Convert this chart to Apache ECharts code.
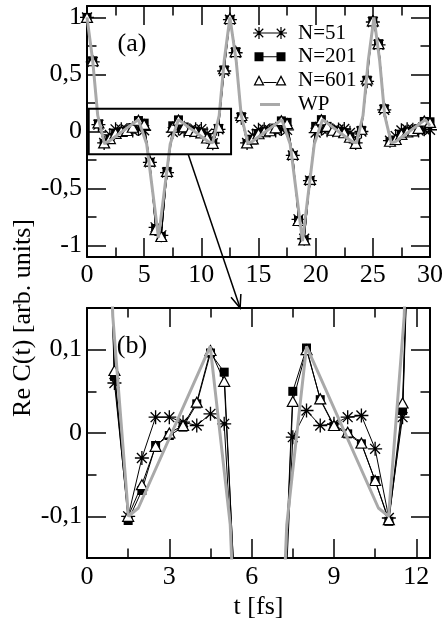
<!DOCTYPE html>
<html><head><meta charset="utf-8">
<script src="https://cdn.jsdelivr.net/npm/echarts@6/dist/echarts.min.js"></script>
<style>html,body{margin:0;padding:0;background:#fff}#c{width:448px;height:625px}</style>
</head><body><div id="c"></div>
<script>
// ---------- data ----------
const times = [0,0.5,1,1.5,2,2.5,3,3.5,4,4.5,5,5.5,6,6.5,7,7.5,8,8.5,9,9.5,10,10.5,11,11.5,12,12.5,
  13,13.5,14,14.5,15,15.5,16,16.5,17,17.5,18,18.5,19,19.5,20,20.5,21,21.5,22,22.5,23,23.5,24,24.5,25,
  25.5,26,26.5,27,27.5,28,28.5,29,29.5,30];
const n51 = [1,0.61,0.06,-0.10,-0.03,0.019,0.019,0.013,0.009,0.023,0.011,-0.27,-0.84,-0.91,-0.36,-0.005,0.027,0.009,0.011,0.019,0.021,-0.019,-0.102,0.019,0.53,0.98,
  0.69,0.12,-0.10,-0.035,0.015,0.02,0.012,0.008,0.022,0.014,-0.21,-0.77,-0.94,-0.43,-0.01,0.025,0.012,0.01,0.018,0.022,-0.012,-0.10,0.0,0.44,0.96,
  0.76,0.19,-0.08,-0.04,0.01,0.02,0.015,0.008,0.02,0.015];
const n201 = [1,0.62,0.068,-0.105,-0.069,-0.015,-0.003,0.007,0.035,0.096,0.073,-0.27,-0.85,-0.92,-0.35,0.050,0.102,0.040,0.008,-0.001,-0.013,-0.057,-0.106,0.027,0.54,0.98,
  0.70,0.13,-0.105,-0.075,-0.02,-0.004,0.005,0.03,0.093,0.08,-0.21,-0.78,-0.95,-0.43,0.045,0.104,0.045,0.01,0.0,-0.012,-0.05,-0.106,0.01,0.45,0.97,
  0.77,0.20,-0.09,-0.08,-0.025,-0.006,0.004,0.025,0.088,0.085];
const n601 = [1,0.62,0.075,-0.10,-0.062,-0.016,0.0,0.009,0.037,0.099,0.062,-0.26,-0.86,-0.92,-0.35,0.038,0.100,0.041,0.009,0.001,-0.012,-0.057,-0.104,0.036,0.55,0.99,
  0.70,0.14,-0.10,-0.065,-0.02,-0.002,0.007,0.032,0.095,0.07,-0.20,-0.78,-0.95,-0.42,0.035,0.102,0.045,0.011,0.002,-0.011,-0.05,-0.104,0.02,0.46,0.97,
  0.77,0.21,-0.085,-0.07,-0.025,-0.004,0.006,0.028,0.092,0.08];
const wpTimes = [0,0.5,0.94,1.51,1.87,4.49,5.22,6.25,7.28,8.0,10.62,10.99,11.56,12.0,12.5,13.05,13.49,14.06,14.42,17.04,
  17.77,18.85,19.88,20.6,23.2,23.57,24.14,24.6,25.1,25.6,26.04,26.61,26.97,29.59,30];
const wpValues = [1,0.62,0.14,-0.1,-0.09,0.104,-0.11,-0.93,-0.11,0.104,-0.09,-0.1,0.14,0.62,1,0.62,0.14,-0.1,-0.09,0.104,
  -0.11,-0.96,-0.11,0.104,-0.09,-0.1,0.14,0.62,1,0.62,0.14,-0.1,-0.09,0.104,0.05];
const seriesNames = ['N=51','N=201','N=601','WP'];

// ticks
const xTicksA = [0,5,10,15,20,25,30];
const xMinorA = [2.5,7.5,12.5,17.5,22.5,27.5];
const yTicksA = [-1,-0.5,0,0.5,1];
const yMinorA = [-0.75,-0.25,0.25,0.75];
const xTicksB = [0,3,6,9,12];
const xMinorB = [1.5,4.5,7.5,10.5];
const yTicksB = [-0.1,0,0.1];
const yMinorB = [-0.05,0.05];

// ---------- styling ----------
const FONT = 'Liberation Serif';
const GRAY = '#a9a9a9';
const fmt = v => String(Math.round(v*1000)/1000).replace('.', ',');

function bar(x1,y1,x2,y2,w){
  const dx=x2-x1, dy=y2-y1, L=Math.hypot(dx,dy);
  const nx=-dy/L*w, ny=dx/L*w;
  return `M${x1+nx},${y1+ny}L${x2+nx},${y2+ny}L${x2-nx},${y2-ny}L${x1-nx},${y1-ny}Z`;
}
function star(cx,cy,r,w){
  const d=r*0.7071;
  return bar(cx-r,cy,cx+r,cy,w)+bar(cx,cy-r,cx,cy+r,w)+bar(cx-d,cy-d,cx+d,cy+d,w)+bar(cx-d,cy+d,cx+d,cy-d,w);
}
const IW = 40, IH = 14;
function corners(){ return `M0,0L0.01,0L0,0.01ZM${IW},${IH}L${IW-0.01},${IH}L${IW},${IH-0.01}Z`; }
function triHollow(cx){
  return `M${cx},1.5L${cx-5.5},12L${cx+5.5},12Z` + `M${cx},4.2L${cx+3.4},10.7L${cx-3.4},10.7Z`;
}
const starSymbol = 'path://' + star(10,10,10,0.95);
const iconStar = 'path://' + corners() + star(6,7,6,0.6) + star(28,7,6,0.6) + bar(6,7,28,7,0.5);
const iconSquare = 'path://' + corners() + bar(1.5,7,10.5,7,4.5) + bar(23.5,7,32.5,7,4.5) + bar(10,7,24,7,0.5);
const iconTri = 'path://' + corners() + triHollow(6) + triHollow(28) + bar(10.5,8.8,23.5,8.8,0.5);
const iconWP = 'path://' + corners() + bar(7,7,27,7,1.5);

function axis(gi, position, min, max, ticks, len, showLine, labelOpt, extra){
  return Object.assign({
    type:'value', gridIndex:gi, position, min, max,
    axisLine:{show:showLine, onZero:false, lineStyle:{color:'#000', width:2}},
    axisTick:{show:true, inside:true, length:len, customValues:ticks, lineStyle:{color:'#000', width:1.5}},
    axisLabel: labelOpt ? Object.assign({show:true, customValues:ticks, color:'#000', fontFamily:FONT, fontSize:26, formatter:fmt}, labelOpt) : {show:false},
    splitLine:{show:false}, minorTick:{show:false}, splitArea:{show:false}, axisPointer:{show:false}
  }, extra || {});
}

const xAxes = [
  axis(0,'bottom',0,30,xTicksA,19,true,{margin:5}),
  axis(0,'bottom',0,30,xMinorA,9.5,false,null),
  axis(0,'top',0,30,xTicksA,19,true,null),
  axis(0,'top',0,30,xMinorA,9.5,false,null),
  axis(1,'bottom',0,12.5,xTicksB,19,true,{margin:6},
    {name:'t [fs]', nameLocation:'middle', nameGap:36, nameTextStyle:{fontFamily:FONT, fontSize:26, color:'#000'}}),
  axis(1,'bottom',0,12.5,xMinorB,9.5,false,null),
  axis(1,'top',0,12.5,xTicksB,19,true,null),
  axis(1,'top',0,12.5,xMinorB,9.5,false,null)
];
const yAxes = [
  axis(0,'left',-1.1,1.1,yTicksA,19,true,{margin:5}),
  axis(0,'left',-1.1,1.1,yMinorA,9.5,false,null),
  axis(0,'right',-1.1,1.1,yTicksA,19,true,null),
  axis(0,'right',-1.1,1.1,yMinorA,9.5,false,null),
  axis(1,'left',-0.15,0.15,yTicksB,19,true,{margin:5}),
  axis(1,'left',-0.15,0.15,yMinorB,9.5,false,null),
  axis(1,'right',-0.15,0.15,yTicksB,19,true,null),
  axis(1,'right',-0.15,0.15,yMinorB,9.5,false,null)
];

function pairs(xs, ys){ return xs.map((x,i)=>[x, ys[i]]); }
function markerSeries(name, ax, vals, symbol, size, itemStyle){
  return {type:'line', name, xAxisIndex:ax, yAxisIndex:ax, data:pairs(times, vals),
    symbol, symbolSize:size, showSymbol:true, showAllSymbol:true, itemStyle,
    lineStyle:{color:'#000', width:1}, emphasis:{disabled:true}, clip:true, z:2, animation:false};
}
function wpSeries(ax){
  return {type:'line', name:'WP', xAxisIndex:ax, yAxisIndex:ax, data:pairs(wpTimes, wpValues),
    symbol:'none', itemStyle:{color:GRAY}, lineStyle:{color:GRAY, width:3}, emphasis:{disabled:true}, clip:true, z:3, animation:false};
}
const series = [];
[0,4].forEach(ax=>{
  series.push(markerSeries(seriesNames[0], ax, n51, starSymbol, 14, {color:'#000'}));
  series.push(markerSeries(seriesNames[1], ax, n201, 'rect', 9, {color:'#000'}));
  series.push(markerSeries(seriesNames[2], ax, n601, 'triangle', [11,10], {color:'#fff', borderColor:'#000', borderWidth:1.2}));
  series.push(wpSeries(ax));
});

const chart = echarts.init(document.getElementById('c'), null, {renderer:'canvas'});
chart.setOption({
  animation:false,
  backgroundColor:'#fff',
  grid:[
    {left:87, top:6, width:343, height:251, containLabel:false, outerBoundsMode:'none'},
    {left:87, top:308, width:343, height:250, containLabel:false, outerBoundsMode:'none'}
  ],
  xAxis:xAxes, yAxis:yAxes,
  legend:{left:253, top:22.5, padding:0, orient:'vertical', align:'left', itemWidth:IW, itemHeight:IH, itemGap:2.8, selectedMode:false,
    textStyle:{fontFamily:FONT, fontSize:21, color:'#000', lineHeight:21},
    data:[
      {name:seriesNames[0], icon:iconStar, itemStyle:{color:'#000', borderWidth:0}},
      {name:seriesNames[1], icon:iconSquare, itemStyle:{color:'#000', borderWidth:0}},
      {name:seriesNames[2], icon:iconTri, itemStyle:{color:'#000', borderWidth:0}},
      {name:seriesNames[3], icon:iconWP, itemStyle:{color:GRAY, borderWidth:0}}
    ]},
  series
});

// ---------- annotations ----------
const pA = pt => chart.convertToPixel({xAxisIndex:0, yAxisIndex:0}, pt);
const pB = pt => chart.convertToPixel({xAxisIndex:4, yAxisIndex:4}, pt);
const r0 = pA([0.15, 0.2]), r1 = pA([12.6, -0.2]);
const a0 = pA([8.85, -0.2]), a1 = pB([5.58, 0.15]);
const ang = Math.atan2(a1[1]-a0[1], a1[0]-a0[0]);
const hl = 14, ha = 0.38;
const w1 = [a1[0]-hl*Math.cos(ang-ha), a1[1]-hl*Math.sin(ang-ha)];
const w2 = [a1[0]-hl*Math.cos(ang+ha), a1[1]-hl*Math.sin(ang+ha)];
const txt = (t, x, y, rot) => ({type:'text', x, y, rotation:rot||0, z:100,
  style:{text:t, fontFamily:FONT, fontSize:26, fill:'#000', align:'center', verticalAlign:'middle'}});
chart.setOption({graphic:[
  {type:'rect', z:100, shape:{x:r0[0], y:r0[1], width:r1[0]-r0[0], height:r1[1]-r0[1]}, style:{fill:'none', stroke:'#000', lineWidth:2}},
  {type:'line', z:100, shape:{x1:a0[0], y1:a0[1], x2:a1[0], y2:a1[1]}, style:{stroke:'#000', lineWidth:1.5}},
  {type:'polyline', z:100, shape:{points:[w1, a1, w2]}, style:{stroke:'#000', lineWidth:1.5, fill:'none'}},
  txt('(a)', 132, 44),
  txt('(b)', 132, 346),
  txt('Re C(t) [arb. units]', 23, 318, Math.PI/2)
]});
</script></body></html>
